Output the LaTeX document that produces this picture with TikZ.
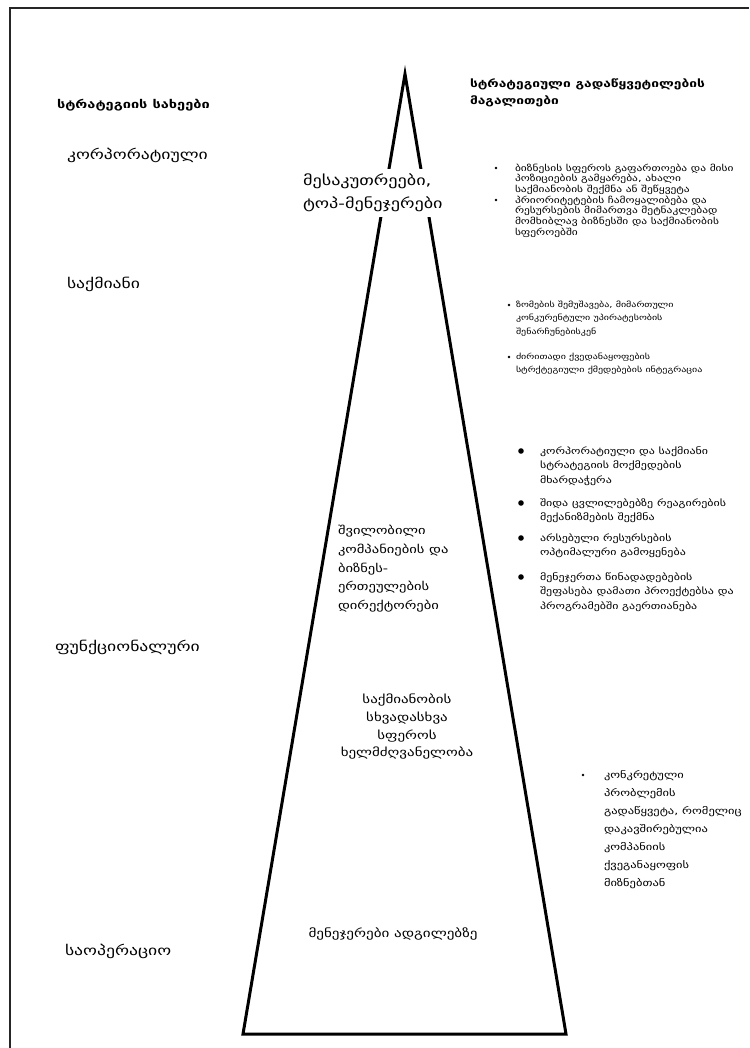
\documentclass[tikz,border=0pt]{standalone}
\usepackage{fontspec}
\setmainfont{DejaVu Sans}[FakeStretch=1.3]
\newcommand{\fs}[2]{\fontsize{#1}{#2}\selectfont}
\begin{document}
\begin{tikzpicture}[x=1pt,y=-1pt,
  every node/.style={inner sep=0pt, outer sep=0pt},
  hd/.style={font=\bfseries\fs{10.6}{17}, align=left, anchor=north west},
  lvl/.style={font=\fs{13.6}{15}, anchor=base west},
  note/.style={align=left, anchor=north west},
  dot/.style={fill=black}]
\useasboundingbox (0,0) rectangle (749,1048);
% frame
\draw[line width=1.6pt, black!85] (10,1048) -- (10,8) -- (749,8);
% pyramid
\draw[line width=3pt, line join=miter, miter limit=30]
  (405,74) coordinate (apex) -- (566,1034) coordinate (br) -- (243,1034) coordinate (bl) -- cycle;
% column headings
\node[font=\bfseries\fs{11.2}{14}, anchor=base west] (hleft) at (57,109) {სტრატეგიის სახეები};
\node[hd] (hright) at (470,79) {სტრატეგიული გადაწყვეტილების\\მაგალითები};
% strategy levels
\node[lvl] (corp) at (67,160) {კორპორატიული};
\node[lvl] (bus) at (67,289) {საქმიანი};
\node[lvl] (func) at (55,651) {ფუნქციონალური};
\node[lvl] (oper) at (65,955) {საოპერაციო};
% who decides, inside the pyramid (the top label sits on a white box over the apex)
\node[font=\fs{14}{23}, align=left, anchor=north west, fill=white, inner xsep=3pt, inner ysep=5pt]
  (owners) at (300,169) {მესაკუთრეები,\\ტოპ-მენეჯერები};
\node[font=\fs{11.2}{18.7}, align=left, anchor=north west] (dirs) at (338,525.5) {შვილობილი\\კომპანიების და\\ბიზნეს-\\ერთეულების\\დირექტორები};
\node[font=\fs{11.5}{17.7}, align=center, anchor=north] (heads) at (407,694) {საქმიანობის\\სხვადასხვა\\სფეროს\\ხელმძღვანელობა};
\node[font=\fs{11.6}{13}, anchor=base] (local) at (393,937) {მენეჯერები ადგილებზე};
% examples of decisions
\fill[dot] (496,168) circle (1.4);
\node[note, font=\fs{8.8}{10.6}] (e1) at (515,164) {ბიზნესის სფეროს გაფართოება და მისი\\პოზიციების გამყარება, ახალი\\საქმიანობის შექმნა ან შეწყვეტა};
\fill[dot] (496,200) circle (1.4);
\node[note, font=\fs{8.8}{10.6}] (e2) at (515,196) {პრიორიტეტების ჩამოყალიბება და\\რესურსების მიმართვა მეტნაკლებად\\მომხიბლავ ბიზნესში და საქმიანობის\\სფეროებში};
\fill[dot] (509,305) circle (1.4);
\node[note, font=\fs{7.7}{13.5}] (e3) at (516,301) {ზომების შემუშავება, მიმართული\\კონკურენტული უპირატესობის\\შენარჩუნებისკენ};
\fill[dot] (509,357) circle (1.4);
\node[note, font=\fs{7.7}{13.5}] (e4) at (516,353) {ძირითადი ქვედანაყოფების\\სტრქტეგიული ქმედებების ინტეგრაცია};
\fill[dot] (521,451) circle (2.8);
\node[note, font=\fs{9.2}{14.5}] (e5) at (540,446.5) {კორპორატიული და საქმიანი\\სტრატეგიის მოქმედების\\მხარდაჭერა};
\fill[dot] (521,503) circle (2.8);
\node[note, font=\fs{9.2}{14.5}] (e6) at (540,498.5) {შიდა ცვლილებებზე რეაგირების\\მექანიზმების შექმნა};
\fill[dot] (521,538) circle (2.8);
\node[note, font=\fs{9.2}{14.5}] (e7) at (540,533.5) {არსებული რესურსების\\ოპტიმალური გამოყენება};
\fill[dot] (521,577) circle (2.8);
\node[note, font=\fs{9.2}{14.5}] (e8) at (540,572.5) {მენეჯერთა წინადადებების\\შეფასება დამათი პროექტებსა და\\პროგრამებში გაერთიანება};
\fill[dot] (583,775) circle (1.4);
\node[note, font=\fs{9.6}{18}] (e9) at (604,770.5) {კონკრეტული\\პრობლემის\\გადაწყვეტა, რომელიც\\დაკავშირებულია\\კომპანიის\\ქვეგანაყოფის\\მიზნებთან};
\end{tikzpicture}
\end{document}
